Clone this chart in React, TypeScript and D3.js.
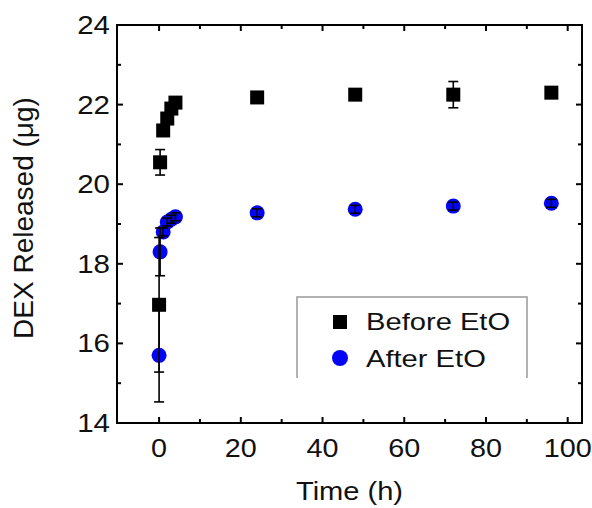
import React, { useRef, useEffect } from "react";
import { scaleLinear, select } from "d3";

// DEX release before / after EtO sterilisation

const times = [0, 0.25, 1, 2, 3, 4, 24, 48, 72, 96];
const beforeValues = [16.97, 20.55, 21.35, 21.65, 21.9, 22.05, 22.18, 22.25, 22.25, 22.3];
const beforeErrors = [1.69, 0.32, 0.08, 0.08, 0.08, 0.08, 0.05, 0.05, 0.33, 0.05];
const afterValues = [15.7, 18.3, 18.8, 19.05, 19.12, 19.18, 19.28, 19.37, 19.45, 19.52];
const afterErrors = [1.17, 0.6, 0.1, 0.1, 0.1, 0.1, 0.1, 0.1, 0.1, 0.1];

const xTicks = [0, 20, 40, 60, 80, 100];
const xMinor = [10, 30, 50, 70, 90];
const yTicks = [14, 16, 18, 20, 22, 24];
const yMinor = [15, 17, 19, 21, 23];

const width = 592,
  height = 508,
  left = 117,
  right = 582,
  top = 25,
  bottom = 423,
  blue = "#0505f5",
  font = "Arial, 'Liberation Sans', sans-serif";

export default function App() {
  const svgRef = useRef<SVGSVGElement>(null);

  useEffect(() => {
    const svg = select(svgRef.current).attr("width", width).attr("height", height);

    const x = scaleLinear().domain([-10.3, 103.5]).range([left, right]);
    const y = scaleLinear().domain([14, 24]).range([bottom, top]);

    // text is a bit wider than plain Arial in the original, so stretch it
    const label = (tx: number, ty: number, str: string | number, size: number, sx: number, anchor = "start") =>
      svg
        .append("text")
        .attr("transform", `translate(${tx},${ty}) scale(${sx},1)`)
        .attr("text-anchor", anchor)
        .attr("font-family", font)
        .attr("font-size", size)
        .attr("fill", "#111")
        .text(str);

    // ticks, inward on all four sides
    const ticks = svg.append("g").attr("stroke", "#000").attr("stroke-width", 2);
    const tick = (list: number[], len: number) => {
      list.forEach((t) => {
        ticks.append("line").attr("x1", x(t)).attr("x2", x(t)).attr("y1", bottom).attr("y2", bottom - len);
        ticks.append("line").attr("x1", x(t)).attr("x2", x(t)).attr("y1", top).attr("y2", top + len);
      });
    };
    const ytick = (list: number[], len: number) => {
      list.forEach((t) => {
        ticks.append("line").attr("y1", y(t)).attr("y2", y(t)).attr("x1", left).attr("x2", left + len);
        ticks.append("line").attr("y1", y(t)).attr("y2", y(t)).attr("x1", right).attr("x2", right - len);
      });
    };
    tick(xTicks, 6);
    tick(xMinor, 4);
    ytick(yTicks, 6);
    ytick(yMinor, 4);

    svg
      .append("rect")
      .attr("x", left)
      .attr("y", top)
      .attr("width", right - left)
      .attr("height", bottom - top)
      .attr("fill", "none")
      .attr("stroke", "#000")
      .attr("stroke-width", 2);

    // tick labels
    xTicks.forEach((t) => label(x(t), 457, t, 25, 1.15, "middle"));
    yTicks.forEach((t) => label(110, y(t) + 9, t, 25, 1.18, "end"));

    label((left + right) / 2, 500, "Time (h)", 25.5, 1.14, "middle");

    svg
      .append("text")
      .attr("transform", `translate(33,218) rotate(-90)`)
      .attr("text-anchor", "middle")
      .attr("font-family", font)
      .attr("font-size", 28)
      .attr("fill", "#111")
      .text("DEX Released (μg)");

    // markers
    const s = 14;
    svg
      .append("g")
      .selectAll("rect")
      .data(times)
      .join("rect")
      .attr("x", (d) => x(d) - s / 2)
      .attr("y", (d, i) => y(beforeValues[i]) - s / 2)
      .attr("width", s)
      .attr("height", s)
      .attr("fill", "#000");

    svg
      .append("g")
      .selectAll("circle")
      .data(times)
      .join("circle")
      .attr("cx", (d) => x(d))
      .attr("cy", (d, i) => y(afterValues[i]))
      .attr("r", 7.5)
      .attr("fill", blue);

    // error bars
    const err = svg.append("g").attr("stroke", "#000").attr("stroke-width", 1.6);
    const drawErr = (vals: number[], errs: number[]) => {
      times.forEach((t, i) => {
        const cx = x(t);
        const y0 = y(vals[i] - errs[i]);
        const y1 = y(vals[i] + errs[i]);
        err.append("line").attr("x1", cx).attr("x2", cx).attr("y1", y0).attr("y2", y1);
        err.append("line").attr("x1", cx - 5).attr("x2", cx + 5).attr("y1", y0).attr("y2", y0);
        err.append("line").attr("x1", cx - 5).attr("x2", cx + 5).attr("y1", y1).attr("y2", y1);
      });
    };
    drawErr(beforeValues, beforeErrors);
    drawErr(afterValues, afterErrors);

    // legend (no bottom edge, as in the original)
    svg
      .append("path")
      .attr("d", "M297,378V297H527V378")
      .attr("fill", "none")
      .attr("stroke", "#999")
      .attr("stroke-width", 1.5);
    svg.append("rect").attr("x", 333).attr("y", 315).attr("width", 14).attr("height", 14).attr("fill", "#000");
    svg.append("circle").attr("cx", 340).attr("cy", 358).attr("r", 8).attr("fill", blue);
    label(366, 330, "Before EtO", 24.5, 1.19);
    label(366, 367, "After EtO", 24.5, 1.19);

    return () => {
      svg.selectAll("*").remove();
    };
  }, []);

  return <svg ref={svgRef} style={{ position: "absolute", left: 0, top: 0, background: "#fff" }}></svg>;
}
